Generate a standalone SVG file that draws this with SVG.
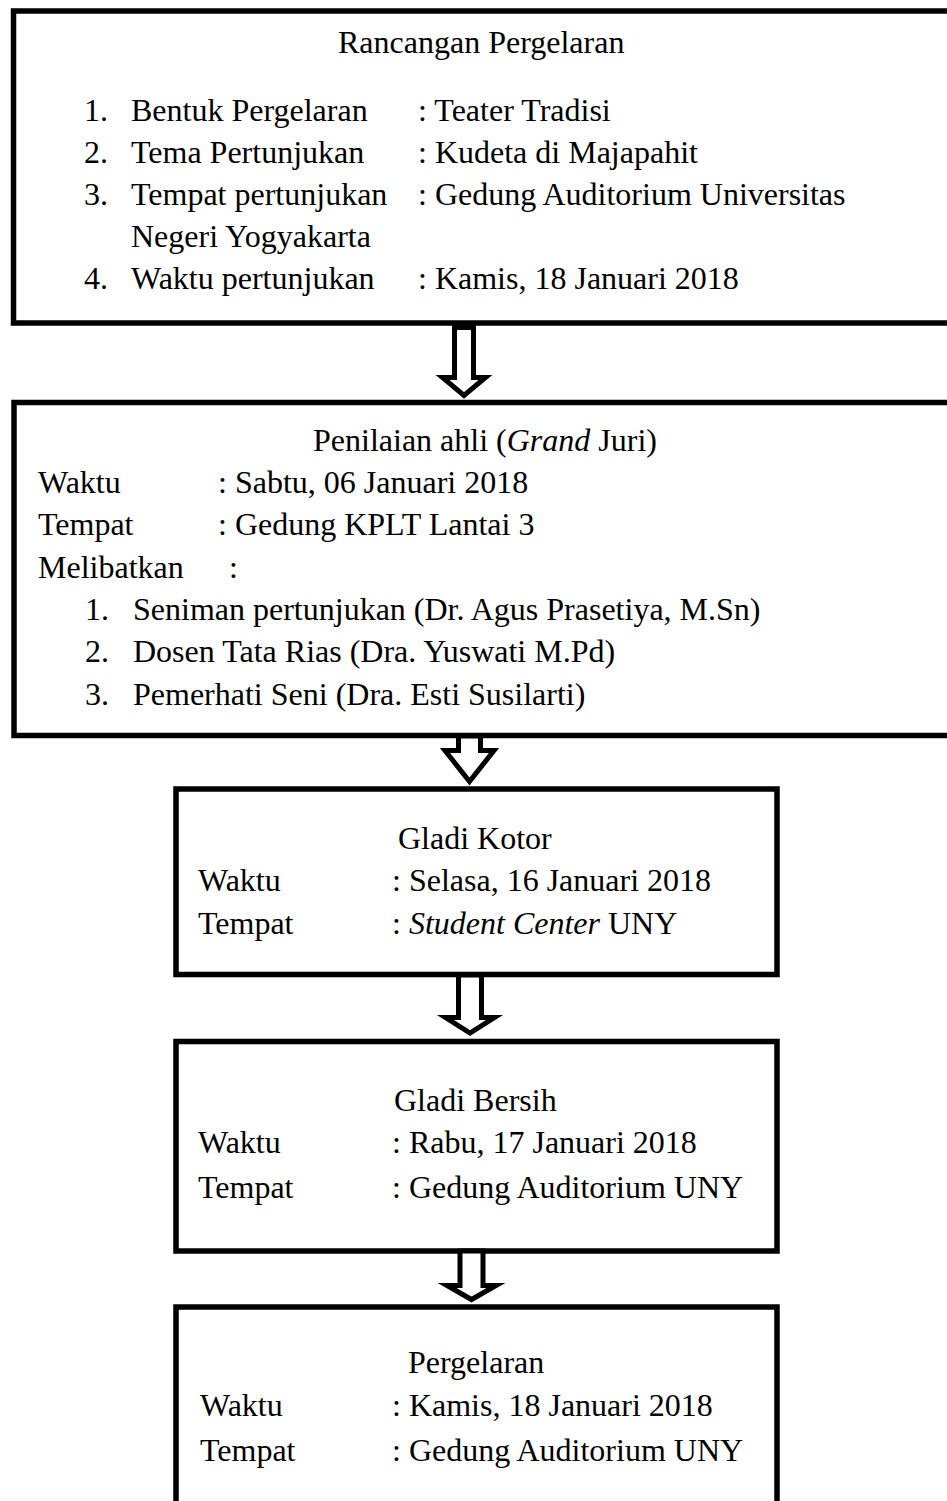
<svg xmlns="http://www.w3.org/2000/svg" width="947" height="1501" viewBox="0 0 947 1501">
<style>
  .box { fill: #fff; stroke: #000; stroke-width: 5.5; }
  .arr { fill: #fff; stroke: #000; stroke-width: 5; stroke-linejoin: miter; }
  text { font-family: "Liberation Serif", "Times New Roman", serif; font-size: 32px; fill: #000; }
  .it { font-style: italic; }
</style>
<rect width="947" height="1501" fill="#fff"/>
<g id="node-rancangan">
  <rect class="box" x="13.5" y="11" width="950" height="312"/>
  <text x="338" y="53">Rancangan Pergelaran</text>
  <text x="84" y="121">1.</text><text x="131" y="121">Bentuk Pergelaran</text><text x="418" y="121">: Teater Tradisi</text>
  <text x="84" y="163">2.</text><text x="131" y="163">Tema Pertunjukan</text><text x="418" y="163">: Kudeta di Majapahit</text>
  <text x="84" y="205">3.</text><text x="131" y="205">Tempat pertunjukan</text><text x="418" y="205">: Gedung Auditorium Universitas</text>
  <text x="131" y="247">Negeri Yogyakarta</text>
  <text x="84" y="289">4.</text><text x="131" y="289">Waktu pertunjukan</text><text x="418" y="289">: Kamis, 18 Januari 2018</text>
</g>
<g id="node-penilaian">
  <rect class="box" x="14" y="402.5" width="950" height="333"/>
  <text x="313" y="451">Penilaian ahli (<tspan class="it">Grand</tspan> Juri)</text>
  <text x="38" y="493">Waktu</text><text x="218" y="493">: Sabtu, 06 Januari 2018</text>
  <text x="38" y="535">Tempat</text><text x="218" y="535">: Gedung KPLT Lantai 3</text>
  <text x="38" y="578">Melibatkan</text><text x="229" y="578">:</text>
  <text x="85" y="620">1.</text><text x="133" y="620">Seniman pertunjukan (Dr. Agus Prasetiya, M.Sn)</text>
  <text x="85" y="662">2.</text><text x="133" y="662">Dosen Tata Rias (Dra. Yuswati M.Pd)</text>
  <text x="85" y="705">3.</text><text x="133" y="705">Pemerhati Seni (Dra. Esti Susilarti)</text>
</g>
<g id="node-gladi-kotor">
  <rect class="box" x="176" y="789" width="601" height="185.5"/>
  <text x="398" y="849">Gladi Kotor</text>
  <text x="198" y="891">Waktu</text><text x="392" y="891">: Selasa, 16 Januari 2018</text>
  <text x="198" y="934">Tempat</text><text x="392" y="934">: <tspan class="it">Student Center</tspan> UNY</text>
</g>
<g id="node-gladi-bersih">
  <rect class="box" x="176" y="1041.5" width="601" height="209.5"/>
  <text x="394" y="1111">Gladi Bersih</text>
  <text x="198" y="1153">Waktu</text><text x="392" y="1153">: Rabu, 17 Januari 2018</text>
  <text x="198" y="1198">Tempat</text><text x="392" y="1198">: Gedung Auditorium UNY</text>
</g>
<g id="node-pergelaran">
  <rect class="box" x="176" y="1307" width="601" height="220"/>
  <text x="408" y="1373">Pergelaran</text>
  <text x="200" y="1416">Waktu</text><text x="392" y="1416">: Kamis, 18 Januari 2018</text>
  <text x="200" y="1461">Tempat</text><text x="392" y="1461">: Gedung Auditorium UNY</text>
</g>
<g id="connectors">
  <path class="arr" d="M454.5,327.5 L454.5,377.5 L442.5,377.5 L464,395.5 L485.5,377.5 L473.5,377.5 L473.5,327.5 Z"/>
  <path class="arr" d="M458.5,736 L458.5,750.5 L445,750.5 L469.5,781.5 L494,750.5 L480.5,750.5 L480.5,736 Z"/>
  <path class="arr" d="M458.5,975 L458.5,1017.5 L445.5,1017.5 L470,1033 L494.5,1017.5 L481.5,1017.5 L481.5,975 Z"/>
  <path class="arr" d="M460,1251 L460,1285.5 L447,1285.5 L471.5,1299.5 L496,1285.5 L483,1285.5 L483,1251 Z"/>
</g>
</svg>
